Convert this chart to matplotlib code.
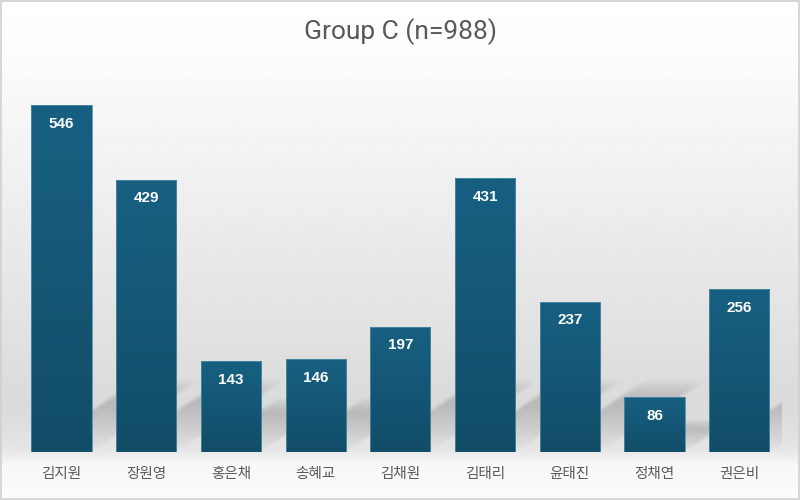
import numpy as np
import matplotlib.pyplot as plt
from matplotlib.patches import Rectangle
from matplotlib.colors import LinearSegmentedColormap

names = ["김지원", "장원영", "홍은채", "송혜교", "김채원", "김태리", "윤태진", "정채연", "권은비"]
counts = [546, 429, 143, 146, 197, 431, 237, 86, 256]
title = "Group C (n=988)"

plt.rcParams['font.family'] = ['Noto Sans CJK KR', 'DejaVu Sans']

fig = plt.figure(figsize=(8, 5), dpi=100)

# background: white at top, grey toward floor, white floor
bg = fig.add_axes([0, 0, 1, 1], zorder=0)
rows = np.linspace(0, 1, 500)  # 0 = top
shade = np.interp(rows, [0, 0.1, 0.82, 0.9, 0.93, 1.0],
                  [1.0, 0.99, 0.855, 0.9, 0.97, 0.985])
bg.imshow(np.tile(shade[:, None], (1, 10)), cmap='gray', vmin=0, vmax=1,
          aspect='auto', extent=[0, 1, 0, 1], interpolation='bilinear')
bg.set_xlim(0, 1)
bg.set_ylim(0, 1)
bg.axis('off')
bg.add_patch(Rectangle((0.001, 0.002), 0.998, 0.996, fill=False,
                       edgecolor='#d0d0d0', lw=1.2, transform=bg.transAxes))

ax = fig.add_axes([0.024, 0.096, 0.953, 0.762], zorder=1)
ax.patch.set_alpha(0)
x = np.arange(len(names))
ymax = 600

bars = ax.bar(x, counts, width=0.71, color='none', edgecolor='#4f8aa5',
              linewidth=0.6, zorder=3)

# soft slanted shadows behind bars
for b, v in zip(bars, counts):
    x0 = b.get_x()
    x1 = x0 + b.get_width()
    dy = min(0.55 * v, 105)
    dx = dy * 0.011
    gx = np.linspace(x0 - 0.1, x1 + dx + 0.2, 200)
    gy = np.linspace(0, dy * 1.15, 120)
    X, Y = np.meshgrid(gx, gy)
    t = Y / dy
    xl = x0 + dx * t
    xr = x1 + dx * t
    s = 0.04 + 0.08 * np.clip(t, 0, 1.2)
    ah = np.clip((X - xl) / s + 0.5, 0, 1) * np.clip((xr - X) / s + 0.5, 0, 1)
    av = np.clip(t, 0, 1) ** 0.9 * np.clip((1.1 - t) / 0.35, 0, 1)
    rgba = np.zeros(X.shape + (4,))
    rgba[..., :3] = 0.4
    rgba[..., 3] = 0.38 * ah * av
    ax.imshow(rgba, aspect='auto', origin='lower',
              extent=[gx[0], gx[-1], 0, gy[-1]], zorder=2,
              interpolation='bilinear')

# gradient fill for bars
bar_cmap = LinearSegmentedColormap.from_list('bar', ['#124d68', '#176082'])
for b, v in zip(bars, counts):
    x0 = b.get_x()
    im = ax.imshow(np.linspace(0, 1, 100)[:, None], cmap=bar_cmap, aspect='auto',
                   origin='lower', extent=[x0, x0 + b.get_width(), 0, v],
                   zorder=2.5, interpolation='bilinear')
    im.set_clip_path(b)
    ax.text(b.get_x() + b.get_width() / 2, v - 29, str(v), ha='center',
            va='center', color='white', fontsize=11, fontweight='bold',
            family=['Liberation Sans', 'DejaVu Sans'], zorder=4)

ax.set_xlim(-0.5, len(names) - 0.5)
ax.set_ylim(0, ymax)
ax.set_xticks(x)
ax.set_xticklabels(names, fontsize=10.5, color='#595959')
ax.tick_params(axis='x', length=0, pad=11)
ax.set_yticks([])
for s in ax.spines.values():
    s.set_visible(False)

fig.text(0.5, 0.936, title, ha='center', va='center', fontsize=19,
         color='#595959', family=['Roboto', 'DejaVu Sans'])

fig.savefig('out.png', dpi=100)
